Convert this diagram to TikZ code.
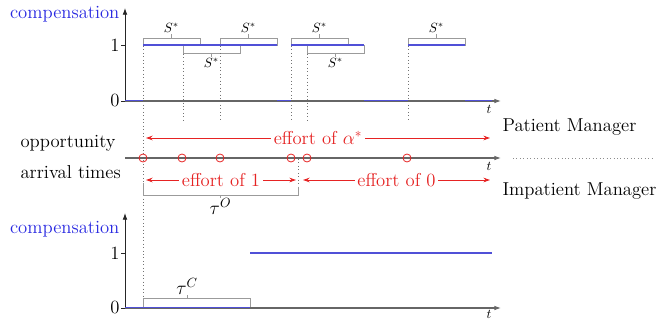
\documentclass[tikz,border=0pt]{standalone}
\usetikzlibrary{arrows.meta}
\definecolor{cblue}{RGB}{80,80,215}
\definecolor{ctext}{RGB}{40,40,225}
\definecolor{cred}{RGB}{230,35,35}
\definecolor{cgray}{RGB}{155,155,155}
\tikzset{
  big/.style={font=\fontsize{14}{16}\selectfont, inner sep=1pt},
  small/.style={font=\fontsize{10}{12}\selectfont, inner sep=1pt},
  xaxisline/.style={draw=black!60, line width=0.8pt, -{Latex[length=5pt,width=3.5pt]}},
  yaxisline/.style={draw=black!85, line width=0.6pt, -{Latex[length=5pt,width=3.5pt]}},
  tickline/.style={draw=black!85, line width=0.6pt},
  comp/.style={draw=cblue, line width=0.9pt},
  sbox/.style={draw=cgray, line width=0.6pt},
  vdots/.style={draw=black!55, dotted, line width=0.6pt},
  effort/.style={draw=cred, line width=0.7pt, {Stealth[length=5pt,width=3.5pt]}-{Stealth[length=5pt,width=3.5pt]}},
  efflabel/.style={big, text=cred, fill=white, inner sep=2pt},
  opp/.style={circle, draw=cred, line width=0.6pt, minimum size=6pt, inner sep=0pt, fill=none},
  complabel/.style={big, text=ctext, anchor=east}
}
\begin{document}
\begin{tikzpicture}[x=0.75pt,y=-0.75pt]
\useasboundingbox (0,0) rectangle (659,321);

% ---------------- top panel ----------------
\coordinate (tO) at (125,101);
\coordinate (tY) at (125,8);
\coordinate (tX) at (501,101);
% boxes
\draw[sbox] (143,45) rectangle (200,38);
\draw[sbox] (171.5,38) -- (171.5,34) coordinate (s1);
\node[small, anchor=south] (ls1) at (s1) {$S^*$};
\draw[sbox] (183,45) rectangle (240,53);
\draw[sbox] (211.5,53) -- (211.5,57) coordinate (s2);
\node[small, anchor=north] (ls2) at (s2) {$S^*$};
\draw[sbox] (220,45) rectangle (277,38);
\draw[sbox] (248.5,38) -- (248.5,34) coordinate (s3);
\node[small, anchor=south] (ls3) at (s3) {$S^*$};
\draw[sbox] (291,45) rectangle (348,38);
\draw[sbox] (319.5,38) -- (319.5,34) coordinate (s4);
\node[small, anchor=south] (ls4) at (s4) {$S^*$};
\draw[sbox] (307,45) rectangle (364,53);
\draw[sbox] (335.5,53) -- (335.5,57) coordinate (s5);
\node[small, anchor=north] (ls5) at (s5) {$S^*$};
\draw[sbox] (408,45) rectangle (465,38);
\draw[sbox] (436.5,38) -- (436.5,34) coordinate (s6);
\node[small, anchor=south] (ls6) at (s6) {$S^*$};
% dotted verticals
\draw[vdots] (143,46) -- (143,297);
\draw[vdots] (183,54) -- (183,122);
\draw[vdots] (220,46) -- (220,122);
\draw[vdots] (291,46) -- (291,122);
\draw[vdots] (307,54) -- (307,122);
\draw[vdots] (408,46) -- (408,122);
% axes
\draw[xaxisline] (tO) -- (tX);
\draw[yaxisline] (tO) -- (tY);
\draw[tickline] (121,45) -- (125,45);
\draw[tickline] (121,101) -- (125,101);
\node[big, anchor=east] (t1) at (121,45) {1};
\node[big, anchor=east] (t0) at (121,100) {0};
\node[complabel] (tc) at (121,14) {compensation};
\node[small, anchor=north] (tt) at (489,104) {$t$};
% compensation path
\draw[comp] (125,100.5) -- (143,100.5);
\draw[comp] (143,45) -- (277,45);
\draw[comp] (277,100.5) -- (291,100.5);
\draw[comp] (291,45) -- (364,45);
\draw[comp] (364,100.5) -- (408,100.5);
\draw[comp] (408,45) -- (465,45);
\draw[comp] (465,100.5) -- (492,100.5);

% ---------------- middle ----------------
\coordinate (mO) at (125,158);
\coordinate (mX) at (501,158);
\draw[xaxisline] (mO) -- (mX);
\node[small, anchor=north] (mt) at (489,161) {$t$};
\draw[vdots] (298,159) -- (298,190);
\foreach \x/\n in {143/a,182/b,220/c,291/d,307/e,407/f}
  \node[opp] (o\n) at (\x,158) {};
\coordinate (pa) at (146,138);
\coordinate (pb) at (490,138);
\draw[effort] (pa) -- node[efflabel] (la) {effort of $\alpha^*$} (pb);
\coordinate (qa) at (146,180);
\coordinate (qb) at (296,180);
\draw[effort] (qa) -- node[efflabel] (lb) {effort of 1} (qb);
\coordinate (ra) at (303,180);
\coordinate (rb) at (490,180);
\draw[effort] (ra) -- node[efflabel] (lc) {effort of 0} (rb);
\draw[sbox] (143,183) -- (143,195) -- (298,195) -- (298,187);
\draw[sbox] (220.5,195) -- (220.5,198) coordinate (tau);
\node[big, anchor=north, inner sep=0pt] (ltau) at (tau) {$\tau^O$};
\node[big, anchor=west] (opp1) at (19,143) {opportunity};
\node[big, anchor=west] (opp2) at (19,172) {arrival times};
\node[big, anchor=west] (pm) at (501,127) {Patient Manager};
\node[big, anchor=west] (im) at (501,191) {Impatient Manager};
\draw[vdots, draw=black!45] (513,158) -- (655,158);

% ---------------- bottom panel ----------------
\coordinate (bO) at (125,308);
\coordinate (bY) at (125,213);
\coordinate (bX) at (501,308);
\draw[sbox] (143,308) rectangle (250,298);
\draw[sbox] (187,298) -- (187,295) coordinate (tc2);
\node[big, anchor=south, inner sep=0pt] (ltc) at (tc2) {$\tau^C$};
\draw[xaxisline] (bO) -- (bX);
\draw[yaxisline] (bO) -- (bY);
\draw[tickline] (121,253) -- (125,253);
\draw[tickline] (121,308) -- (125,308);
\node[big, anchor=east] (b1) at (121,253) {1};
\node[big, anchor=east] (b0) at (121,307) {0};
\node[complabel] (bc) at (121,229) {compensation};
\node[small, anchor=north, inner sep=0pt] (bt) at (489,310) {$t$};
\draw[comp] (125,307.5) -- (250,307.5);
\draw[comp] (250,253) -- (492,253);
\end{tikzpicture}
\end{document}
